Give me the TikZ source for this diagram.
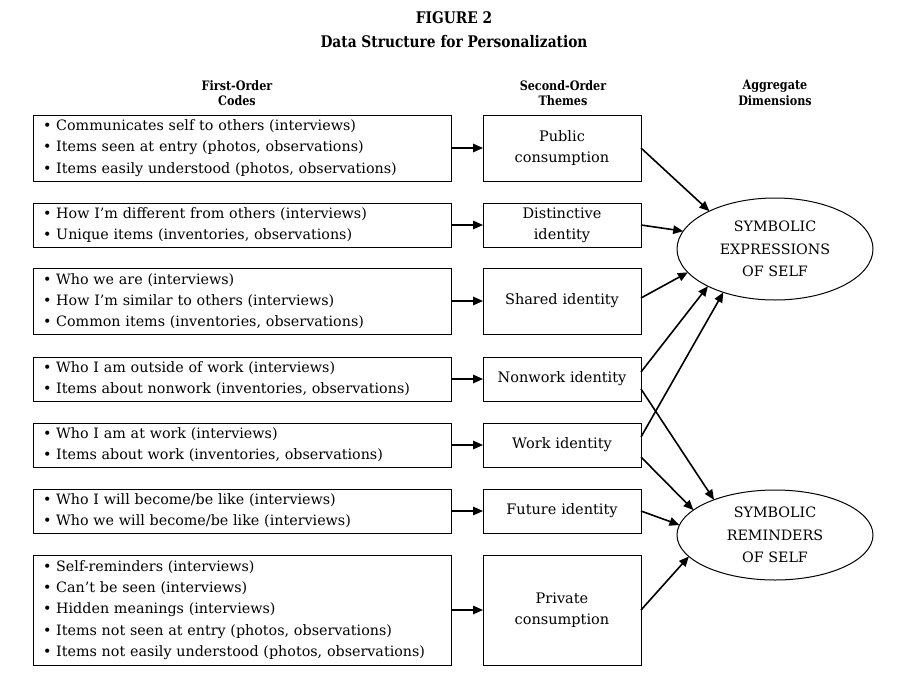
\documentclass[tikz,border=0pt]{standalone}
\usepackage{fontspec}
\setmainfont{DejaVu Serif}
\newfontfamily\condfont[FakeStretch=0.86]{DejaVu Serif}
\usetikzlibrary{shapes.geometric,arrows.meta}
\begin{document}
\begin{tikzpicture}[x=1pt,y=-1pt,
  every node/.style={inner sep=0pt, outer sep=0pt},
  codebox/.style={draw, line width=1pt, minimum width=418pt, text width=398pt, align=left, inner xsep=10pt, font=\fontsize{14.3}{21.3}\selectfont},
  themebox/.style={draw, line width=1pt, minimum width=158pt, text width=150pt, align=center, inner xsep=4pt, font=\fontsize{14.5}{21.3}\selectfont},
  dimension/.style={draw, ellipse, line width=1pt, minimum width=196pt, align=center, font=\fontsize{14.3}{22.5}\selectfont},
  arr/.style={line width=1.6pt, -{Triangle[length=10pt,width=8.5pt]}},
  head/.style={align=center, font=\condfont\bfseries\fontsize{13}{15.5}\selectfont},
  titletext/.style={font=\condfont\bfseries\fontsize{16}{18}\selectfont},
]
\path[use as bounding box] (0,0) rectangle (908,686);

\node[titletext] (title) at (454,18) {FIGURE 2};
\node[titletext] (subtitle) at (454,42) {Data Structure for Personalization};

\node[head] (h1) at (237,93) {First-Order\\Codes};
\node[head] (h2) at (563,93) {Second-Order\\Themes};
\node[head] (h3) at (775,93) {Aggregate\\Dimensions};

% first-order codes
\node[codebox, minimum height=66pt] (c1) at (242,148) {• Communicates self to others (interviews)\\• Items seen at entry (photos, observations)\\• Items easily understood (photos, observations)};
\node[codebox, minimum height=44pt] (c2) at (242,225) {• How I’m different from others (interviews)\\• Unique items (inventories, observations)};
\node[codebox, minimum height=66pt] (c3) at (242,301) {• Who we are (interviews)\\• How I’m similar to others (interviews)\\• Common items (inventories, observations)};
\node[codebox, minimum height=44pt] (c4) at (242,379) {• Who I am outside of work (interviews)\\• Items about nonwork (inventories, observations)};
\node[codebox, minimum height=44pt] (c5) at (242,445) {• Who I am at work (interviews)\\• Items about work (inventories, observations)};
\node[codebox, minimum height=44pt] (c6) at (242,511) {• Who I will become/be like (interviews)\\• Who we will become/be like (interviews)};
\node[codebox, minimum height=110pt] (c7) at (242,610) {• Self-reminders (interviews)\\• Can’t be seen (interviews)\\• Hidden meanings (interviews)\\• Items not seen at entry (photos, observations)\\• Items not easily understood (photos, observations)};

% second-order themes
\node[themebox, minimum height=66pt] (t1) at (562,148) {Public\\consumption};
\node[themebox, minimum height=44pt] (t2) at (562,225) {Distinctive\\identity};
\node[themebox, minimum height=66pt] (t3) at (562,301) {Shared identity};
\node[themebox, minimum height=44pt] (t4) at (562,379) {Nonwork identity};
\node[themebox, minimum height=44pt] (t5) at (562,445) {Work identity};
\node[themebox, minimum height=44pt] (t6) at (562,511) {Future identity};
\node[themebox, minimum height=110pt] (t7) at (562,610) {Private\\consumption};

% aggregate dimensions
\node[dimension, minimum height=102pt] (d1) at (775,249) {SYMBOLIC\\EXPRESSIONS\\OF SELF};
\node[dimension, minimum height=90pt] (d2) at (775,535) {SYMBOLIC\\REMINDERS\\OF SELF};

% codes -> themes
\foreach \i in {1,...,7} {\draw[arr] (c\i.east) -- (t\i.west);}

% themes -> dimensions
\draw[arr] (t1.east) -- (d1.150);
\draw[arr] (t2.east) -- (d1.169);
\draw[arr] ([yshift=3pt]t3.east) -- (d1.195);
\draw[arr] ([yshift=7pt]t4.east) -- (d1.209);
\draw[arr] ([yshift=8pt]t5.east) -- (d1.220);
\draw[arr] ([yshift=-10pt]t4.east) -- (d2.150);
\draw[arr] ([yshift=-12pt]t5.east) -- (d2.163);
\draw[arr] (t6.east) -- (d2.174);
\draw[arr] (t7.east) -- (d2.194);
\end{tikzpicture}
\end{document}
